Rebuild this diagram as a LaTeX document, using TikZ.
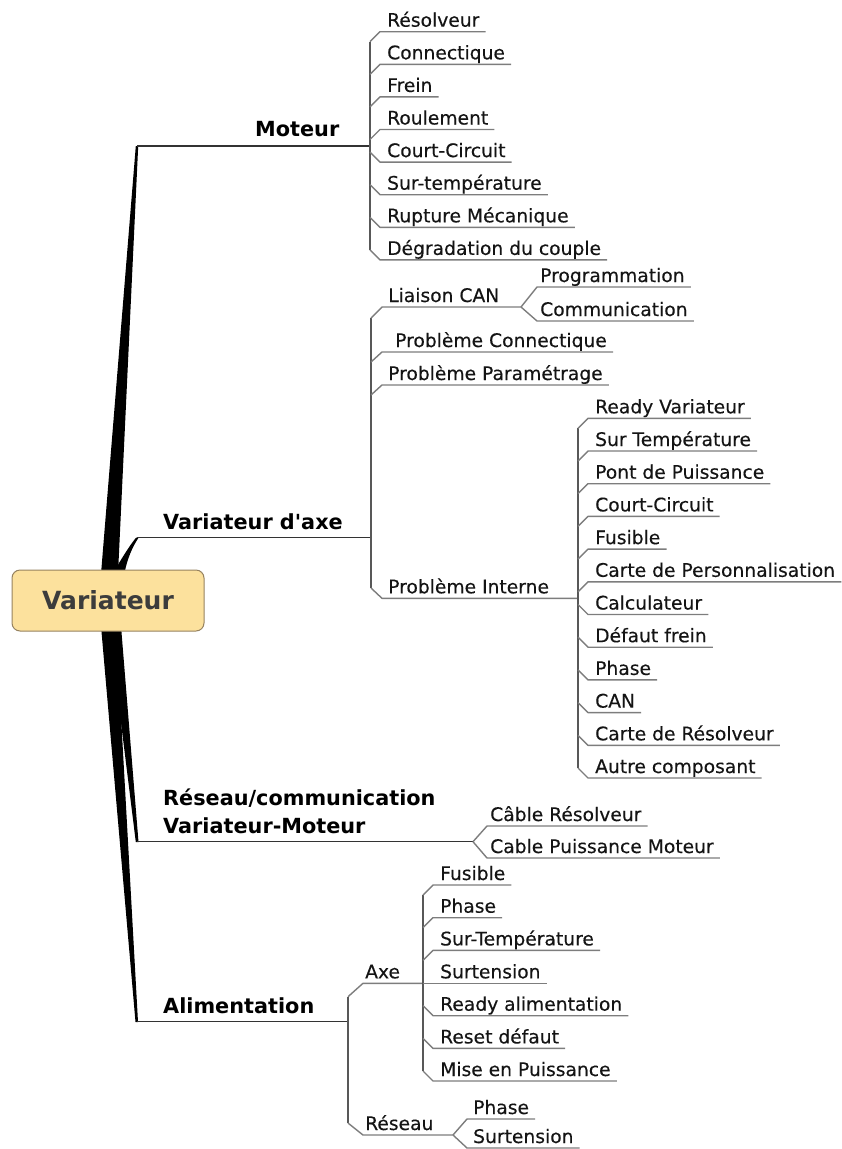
\documentclass[tikz,border=0pt]{standalone}
\usepackage{fontspec}
\setmainfont{DejaVu Sans}
\newfontfamily\leaffam{DejaVu Sans}[FakeBold=0.3]
\definecolor{rootfill}{RGB}{252,225,157}
\definecolor{rootdraw}{RGB}{150,130,95}
\definecolor{leafgray}{RGB}{125,125,125}
\definecolor{txt}{RGB}{20,20,20}
\definecolor{roottxt}{RGB}{60,60,60}
\tikzset{
  leaf/.style={anchor=base west, inner sep=0pt, text=txt, font=\leaffam\fontsize{18.7}{22}\selectfont},
  mainlbl/.style={anchor=base west, inner sep=0pt, text=black, font=\fontsize{20.8}{26}\selectfont\bfseries},
  leafline/.style={draw=leafgray, line width=1.4pt, line join=round},
  bracket/.style={draw=leafgray!70!black, line width=1.2pt},
  branch/.style={draw=black!80, line width=1.2pt},
  wedge/.style={fill=black},
  rootbox/.style={draw=rootdraw, line width=1pt, fill=rootfill, rounded corners=8pt,
    minimum width=192pt, minimum height=61pt, inner sep=0pt, text=roottxt,
    font=\fontsize{25}{28}\selectfont\bfseries}
}
% \leaf{name}{start}{x1}{underline y}{text x}{text}
\newcommand\leaf[6]{%
  \node[leaf] (#1) at (#5,{#4-5}) {#6};
  \draw[leafline] (#2) -- (#3,#4) -- ([xshift=6pt,yshift=-5pt]#1.base east);
}
\begin{document}
\begin{tikzpicture}[x=1pt,y=-1pt]
\useasboundingbox (0,0) rectangle (841,1149);

% ---------- wedges from the root ----------
\fill[wedge] (101,574) -- (135.8,146) -- (138.2,146) -- (118,574) -- cycle;
\fill[wedge] (111,576) .. controls (121,560) and (129,546) .. (136,537.8)
   -- (139,537) .. controls (133,546) and (127,558) .. (124,576) -- cycle;
\fill[wedge] (109,626) -- (135.8,842) -- (138.5,842) -- (121,626) -- cycle;
\fill[wedge] (101,626) -- (135.5,1022) -- (138,1022) -- (116,626) -- cycle;

% ---------- root ----------
\node[rootbox] (root) at (108,600.5) {Variateur};

% ---------- Moteur ----------
\coordinate (motA) at (137,146);
\coordinate (motJ) at (370,146);
\node[mainlbl] (moteur) at (255,136.5) {Moteur};
\draw[branch] (motA) -- (motJ);
\draw[bracket] (370,41.7) -- (370,249.9);
\leaf{m1}{370,41.7}{380}{31.7}{387}{Résolveur}
\leaf{m2}{370,74.3}{380}{64.3}{387}{Connectique}
\leaf{m3}{370,106.9}{380}{96.9}{387}{Frein}
\leaf{m4}{370,139.5}{380}{129.5}{387}{Roulement}
\leaf{m5}{370,152.1}{380}{162.1}{387}{Court-Circuit}
\leaf{m6}{370,184.7}{380}{194.7}{387}{Sur-température}
\leaf{m7}{370,217.3}{380}{227.3}{387}{Rupture Mécanique}
\leaf{m8}{370,249.9}{380}{259.9}{387}{Dégradation du couple}

% ---------- Variateur d'axe ----------
\coordinate (varA) at (137,537.3);
\coordinate (varJ) at (371,537.3);
\node[mainlbl] (varaxe) at (163,529.3) {Variateur d\textquotesingle axe};
\draw[branch] (varA) -- (varJ);
\draw[bracket] (371,318) -- (371,588);
% Liaison CAN
\coordinate (canJ) at (521,307);
\node[leaf] (can) at (388,302) {Liaison CAN};
\draw[leafline] (371,318) -- (382,307) -- (canJ);
\leaf{c1}{canJ}{537}{287}{540}{Programmation}
\leaf{c2}{canJ}{537}{321}{540}{Communication}
\leaf{v2}{371,362}{382}{352}{395}{Problème Connectique}
\leaf{v3}{371,395}{382}{385}{388}{Problème Paramétrage}
% Problème Interne
\coordinate (piJ) at (578,598.3);
\node[leaf] (pint) at (388,593.3) {Problème Interne};
\draw[leafline] (371,588) -- (382,598.3) -- (piJ);
\draw[bracket] (578,428.3) -- (578,768);
\leaf{p1}{578,428.3}{588}{418.3}{595}{Ready Variateur}
\leaf{p2}{578,461}{588}{451}{595}{Sur Température}
\leaf{p3}{578,493.7}{588}{483.7}{595}{Pont de Puissance}
\leaf{p4}{578,526.4}{588}{516.4}{595}{Court-Circuit}
\leaf{p5}{578,559.1}{588}{549.1}{595}{Fusible}
\leaf{p6}{578,591.8}{588}{581.8}{595}{Carte de Personnalisation}
\leaf{p7}{578,604.5}{588}{614.5}{595}{Calculateur}
\leaf{p8}{578,637.2}{588}{647.2}{595}{Défaut frein}
\leaf{p9}{578,669.9}{588}{679.9}{595}{Phase}
\leaf{p10}{578,702.6}{588}{712.6}{595}{CAN}
\leaf{p11}{578,735.3}{588}{745.3}{595}{Carte de Résolveur}
\leaf{p12}{578,768}{588}{778}{595}{Autre composant}

% ---------- Réseau/communication ----------
\coordinate (resA) at (137,841.7);
\coordinate (resJ) at (473,841.7);
\node[mainlbl] (res1) at (163,805) {Réseau/communication};
\node[mainlbl] (res2) at (163,833.3) {Variateur-Moteur};
\draw[branch] (resA) -- (resJ);
\leaf{r1}{resJ}{487}{826}{490}{Câble Résolveur}
\leaf{r2}{resJ}{487}{858}{490}{Cable Puissance Moteur}

% ---------- Alimentation ----------
\coordinate (aliA) at (137,1021.7);
\coordinate (aliJ) at (348,1021.7);
\node[mainlbl] (alim) at (163,1013.3) {Alimentation};
\draw[branch] (aliA) -- (aliJ);
\draw[bracket] (348,996.7) -- (348,1123);
% Axe
\coordinate (axeJ) at (423,983.3);
\node[leaf] (axe) at (365,978.3) {Axe};
\draw[leafline] (348,996.7) -- (363,983.3) -- (axeJ);
\draw[bracket] (423,895) -- (423,1071);
\leaf{a1}{423,895}{433}{885}{440}{Fusible}
\leaf{a2}{423,927.7}{433}{917.7}{440}{Phase}
\leaf{a3}{423,960.4}{433}{950.4}{440}{Sur-Température}
\leaf{a4}{axeJ}{433}{983.3}{440}{Surtension}
\leaf{a5}{423,1005.7}{433}{1015.7}{440}{Ready alimentation}
\leaf{a6}{423,1038.4}{433}{1048.4}{440}{Reset défaut}
\leaf{a7}{423,1071}{433}{1081}{440}{Mise en Puissance}
% Réseau
\coordinate (rsJ) at (453,1135);
\node[leaf] (rs) at (365,1130) {Réseau};
\draw[leafline] (348,1123) -- (363,1135) -- (rsJ);
\leaf{s1}{rsJ}{467}{1119}{473}{Phase}
\leaf{s2}{rsJ}{467}{1148}{473}{Surtension}
\end{tikzpicture}
\end{document}
